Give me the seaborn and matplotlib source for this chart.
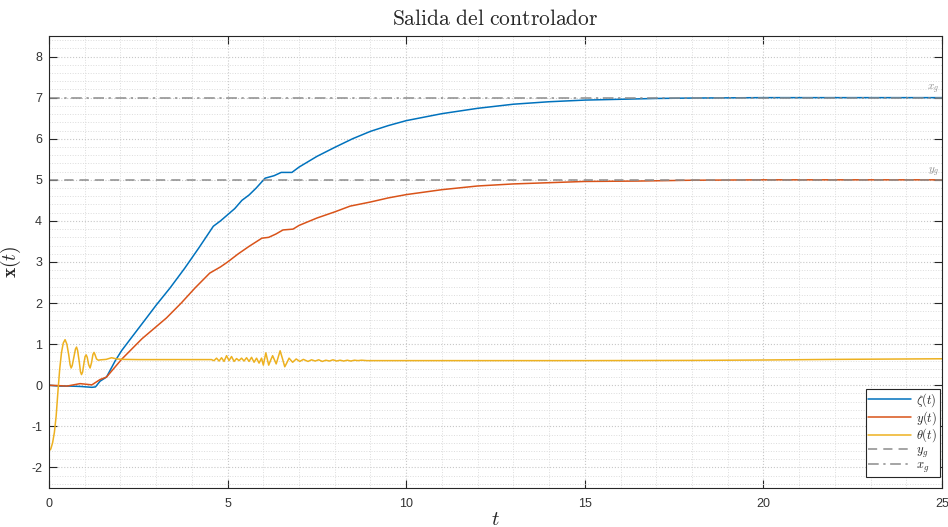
import numpy as np
import pandas as pd
import seaborn as sns
import matplotlib
matplotlib.use("Agg")
import matplotlib.pyplot as plt
from matplotlib.ticker import MultipleLocator

# ---------------- data ----------------
t_zeta = [0.0, 0.3, 0.6, 0.9, 1.2, 1.3, 1.43, 1.61, 1.85, 2.03, 2.3, 2.73, 3.0,
          3.39, 3.8, 4.2, 4.6, 4.8, 5.0, 5.2, 5.4, 5.6, 5.8, 6.05, 6.3, 6.5,
          6.8, 7.0, 7.5, 8.0, 8.5, 9.0, 9.5, 10.0, 11.0, 12.0, 13.0, 14.0,
          15.0, 16.0, 17.0, 18.0, 20.0, 22.0, 25.0]
zeta = [0.0, -0.02, -0.02, -0.03, -0.05, -0.04, 0.10, 0.20, 0.59, 0.84, 1.15,
        1.64, 1.95, 2.37, 2.85, 3.35, 3.87, 4.00, 4.15, 4.30, 4.50, 4.63, 4.80,
        5.04, 5.10, 5.18, 5.18, 5.31, 5.57, 5.79, 6.00, 6.18, 6.32, 6.44, 6.61,
        6.74, 6.84, 6.90, 6.94, 6.96, 6.98, 6.99, 7.0, 7.0, 7.0]

t_y = [0.0, 0.3, 0.5, 0.87, 1.2, 1.43, 1.61, 2.03, 2.6, 3.29, 3.7, 4.09, 4.5,
       4.8, 5.0, 5.3, 5.6, 5.96, 6.15, 6.35, 6.55, 6.83, 7.0, 7.5, 8.0, 8.43,
       9.0, 9.5, 10.0, 11.0, 12.0, 13.0, 14.0, 15.0, 16.5, 18.0, 20.0, 22.0,
       25.0]
y_pos = [0.0, -0.01, -0.02, 0.04, 0.01, 0.14, 0.20, 0.63, 1.13, 1.64, 2.0,
         2.37, 2.73, 2.88, 3.0, 3.2, 3.38, 3.58, 3.60, 3.68, 3.78, 3.80, 3.89,
         4.07, 4.22, 4.36, 4.46, 4.56, 4.64, 4.76, 4.85, 4.90, 4.93, 4.96, 4.97,
         4.99, 5.0, 5.0, 5.0]

t_theta = [0.0, 0.05, 0.10, 0.15, 0.20, 0.25, 0.30, 0.35, 0.40, 0.45, 0.50,
           0.55, 0.59, 0.62, 0.65, 0.70, 0.74, 0.77, 0.80, 0.85, 0.88, 0.91,
           0.94, 0.98, 1.01, 1.04, 1.07, 1.11, 1.15, 1.19, 1.23, 1.26, 1.29,
           1.33, 1.38, 1.45, 1.6, 1.75, 1.9, 2.07, 2.5, 3.0, 4.0,
           4.55, 4.585, 4.62, 4.655, 4.69, 4.725, 4.76, 4.795, 4.83, 4.865,
           4.90, 4.935, 4.97, 5.005, 5.04, 5.075, 5.11, 5.145, 5.18, 5.215,
           5.25, 5.285, 5.32, 5.355, 5.39, 5.425, 5.46, 5.495, 5.53, 5.565,
           5.60, 5.635, 5.67, 5.705, 5.74, 5.775, 5.81, 5.845, 5.88, 5.915,
           5.95, 5.975, 6.00, 6.035, 6.07, 6.11, 6.15, 6.205, 6.26, 6.31,
           6.36, 6.415, 6.47, 6.535, 6.60, 6.66, 6.72, 6.77, 6.82, 6.87,
           6.92, 6.97, 7.02, 7.07, 7.12,
           7.25, 7.35, 7.45, 7.55, 7.65, 7.75, 7.85, 7.95, 8.05, 8.15, 8.25,
           8.35, 8.45, 8.55, 8.65, 8.75, 8.9,
           10.0, 12.0, 15.0, 18.0, 20.0, 22.0, 25.0]
theta = [-1.60, -1.55, -1.40, -1.15, -0.75, -0.15, 0.40, 0.80, 1.03, 1.11,
         1.00, 0.75, 0.50, 0.42, 0.48, 0.70, 0.88, 0.93, 0.85, 0.55, 0.33,
         0.26, 0.32, 0.55, 0.70, 0.74, 0.68, 0.50, 0.42, 0.55, 0.75, 0.80,
         0.74, 0.64, 0.61, 0.62, 0.63, 0.67, 0.64, 0.63, 0.625, 0.625, 0.625,
         0.625, 0.61, 0.60, 0.63, 0.66, 0.625, 0.59, 0.63, 0.67, 0.625,
         0.58, 0.65, 0.72, 0.66, 0.60, 0.65, 0.70, 0.64, 0.58, 0.615,
         0.65, 0.625, 0.60, 0.63, 0.66, 0.625, 0.59, 0.63, 0.67, 0.625,
         0.58, 0.63, 0.68, 0.62, 0.56, 0.61, 0.66, 0.60, 0.54, 0.60,
         0.66, 0.57, 0.49, 0.64, 0.79, 0.64, 0.49, 0.61, 0.72, 0.62,
         0.52, 0.68, 0.84, 0.65, 0.45, 0.55, 0.66, 0.61, 0.56, 0.60,
         0.64, 0.61, 0.58, 0.605, 0.63,
         0.58, 0.62, 0.59, 0.62, 0.58, 0.61, 0.59, 0.62, 0.59, 0.61, 0.59,
         0.61, 0.59, 0.61, 0.60, 0.61, 0.60,
         0.60, 0.60, 0.60, 0.605, 0.615, 0.63, 0.645]

t_goal = [0.0, 25.0]
y_goal = [5.0, 5.0]
x_goal = [7.0, 7.0]

x_ticks = [0, 5, 10, 15, 20, 25]
y_ticks = [-2, -1, 0, 1, 2, 3, 4, 5, 6, 7, 8]

labels = [r'$\zeta(t)$', r'$y(t)$', r'$\theta(t)$', r'$y_g$', r'$x_g$']
colors = ['#0072BD', '#D95319', '#EDB120', '#8c8c8c', '#8c8c8c']

# ---------------- style ----------------
sns.set_style("ticks")
plt.rcParams['font.family'] = ['Liberation Sans', 'DejaVu Sans']
plt.rcParams['mathtext.fontset'] = 'cm'
plt.rcParams['axes.unicode_minus'] = False

fig = plt.figure(figsize=(9.48, 5.27), dpi=100)
ax = fig.add_axes([0.0517, 0.074, 0.942, 0.8577])

lw = 1.1
sns.lineplot(x=t_zeta, y=zeta, ax=ax, color=colors[0], lw=lw, label=labels[0])
sns.lineplot(x=t_y, y=y_pos, ax=ax, color=colors[1], lw=lw, label=labels[1])
sns.lineplot(x=t_theta, y=theta, ax=ax, color=colors[2], lw=lw, label=labels[2])
sns.lineplot(x=t_goal, y=y_goal, ax=ax, color=colors[3], lw=lw,
             linestyle=(0, (6, 4)), label=labels[3])
sns.lineplot(x=t_goal, y=x_goal, ax=ax, color=colors[4], lw=lw,
             linestyle=(0, (7, 3, 1.5, 3)), label=labels[4])

ax.text(24.92, 7.03, r'$x_g$', ha='right', va='bottom', fontsize=8, color='#8c8c8c')
ax.text(24.92, 5.03, r'$y_g$', ha='right', va='bottom', fontsize=8, color='#8c8c8c')

ax.set_xlim(0, 25)
ax.set_ylim(-2.5, 8.5)
ax.set_xticks(x_ticks)
ax.set_yticks(y_ticks)
ax.xaxis.set_minor_locator(MultipleLocator(1))
ax.yaxis.set_minor_locator(MultipleLocator(0.2))

ax.grid(which='major', linestyle=':', color='#c8c8c8', linewidth=0.8)
ax.grid(which='minor', linestyle=':', color='#dcdcdc', linewidth=0.7)
ax.set_axisbelow(True)

for s in ax.spines.values():
    s.set_visible(True)
    s.set_color('#262626')
    s.set_linewidth(0.8)

ax.tick_params(which='major', direction='in', length=6, width=0.8,
               top=True, right=True, colors='#262626', labelsize=9,
               labelcolor='#333333')
ax.tick_params(axis='x', which='major', pad=7)
ax.tick_params(axis='y', which='major', pad=5)
ax.tick_params(which='minor', length=0)

ax.set_title(r'$\mathrm{Salida\ del\ controlador}$', fontsize=15.5, pad=8)
ax.set_xlabel(r'$t$', fontsize=15, labelpad=0)
ax.set_ylabel(r'$\mathbf{x}(t)$', fontsize=14)
ax.yaxis.set_label_coords(-0.029, 0.5)

leg = ax.legend(loc='lower right', bbox_to_anchor=(0.9975, 0.024),
                borderaxespad=0, fontsize=9, frameon=True, fancybox=False,
                framealpha=1, edgecolor='#262626', handlelength=3.4,
                labelspacing=0.0, borderpad=0.2, handletextpad=0.45)
leg.get_frame().set_linewidth(0.8)

fig.savefig('out.png', dpi=100)
